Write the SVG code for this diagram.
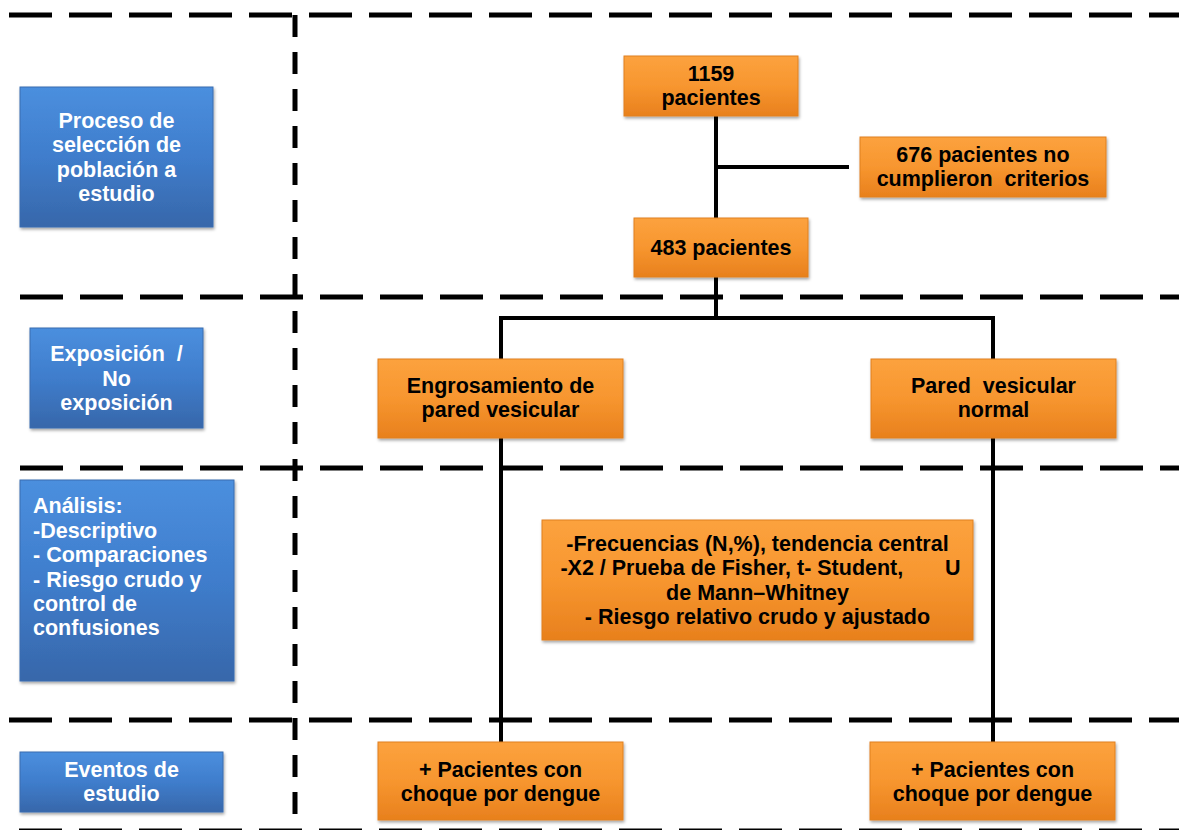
<svg xmlns="http://www.w3.org/2000/svg" width="1179" height="830" viewBox="0 0 1179 830">
<defs>
<linearGradient id="gb" x1="0" y1="0" x2="0" y2="1">
<stop offset="0" stop-color="#4b8fde"/>
<stop offset="0.5" stop-color="#3f7dcc"/>
<stop offset="1" stop-color="#3767aa"/>
</linearGradient>
<linearGradient id="go" x1="0" y1="0" x2="0" y2="1">
<stop offset="0" stop-color="#fca23e"/>
<stop offset="0.5" stop-color="#f7962f"/>
<stop offset="1" stop-color="#e8801d"/>
</linearGradient>
<filter id="sh" x="-10%" y="-10%" width="125%" height="135%">
<feDropShadow dx="1" dy="2" stdDeviation="1.5" flood-color="#000" flood-opacity="0.35"/>
</filter>
</defs>
<style>
.dh{stroke:#000;stroke-width:5;stroke-dasharray:43 17;fill:none}
.dv{stroke:#000;stroke-width:5;stroke-dasharray:22 15;fill:none}
.cn{stroke:#000;stroke-width:4;fill:none}
.bb{fill:url(#gb);stroke:#3a6cb0;stroke-width:1;filter:url(#sh)}
.ob{fill:url(#go);stroke:#e0801f;stroke-width:1;filter:url(#sh)}
.tw{font-family:"Liberation Sans",Arial,sans-serif;font-weight:bold;font-size:21.5px;fill:#fff;text-anchor:middle}
.tl{font-family:"Liberation Sans",Arial,sans-serif;font-weight:bold;font-size:21.5px;fill:#fff}
.tb{font-family:"Liberation Sans",Arial,sans-serif;font-weight:bold;font-size:21.5px;fill:#000;text-anchor:middle}
</style>
<rect width="1179" height="830" fill="#fff"/>
<g id="grid">
<line class="dh" x1="9" y1="15" x2="1179" y2="15"/>
<line class="dh" x1="20" y1="297" x2="1179" y2="297"/>
<line class="dh" x1="20" y1="468" x2="1179" y2="468"/>
<line class="dh" x1="9" y1="720" x2="1179" y2="720"/>
<line class="dh" x1="19" y1="831" x2="1179" y2="831"/>
<line class="dv" x1="295" y1="15" x2="295" y2="830"/>
</g>
<g id="connectors">
<line class="cn" x1="716" y1="116" x2="716" y2="218"/>
<line class="cn" x1="716" y1="167" x2="849" y2="167"/>
<line class="cn" x1="716" y1="277" x2="716" y2="318"/>
<line class="cn" x1="499" y1="318" x2="995" y2="318"/>
<line class="cn" x1="501" y1="318" x2="501" y2="359"/>
<line class="cn" x1="993" y1="318" x2="993" y2="359"/>
<line class="cn" x1="501" y1="438" x2="501" y2="742"/>
<line class="cn" x1="993" y1="438" x2="993" y2="742"/>
</g>
<g id="lbl-proceso">
<rect class="bb" x="20" y="87" width="193" height="140"/>
<text class="tw" x="116.5" y="128">Proceso de</text>
<text class="tw" x="116.5" y="152">selección de</text>
<text class="tw" x="116.5" y="177">población a</text>
<text class="tw" x="116.5" y="201">estudio</text>
</g>
<g id="lbl-exposicion">
<rect class="bb" x="30" y="328" width="173" height="100"/>
<text class="tw" x="116.5" y="361" xml:space="preserve">Exposición  /</text>
<text class="tw" x="116.5" y="386">No</text>
<text class="tw" x="116.5" y="410">exposición</text>
</g>
<g id="lbl-analisis">
<rect class="bb" x="20" y="480" width="214" height="201"/>
<text class="tl" x="33" y="513">Análisis:</text>
<text class="tl" x="33" y="538">-Descriptivo</text>
<text class="tl" x="33" y="562">- Comparaciones</text>
<text class="tl" x="33" y="587">- Riesgo crudo y</text>
<text class="tl" x="33" y="611">control de</text>
<text class="tl" x="33" y="635">confusiones</text>
</g>
<g id="lbl-eventos">
<rect class="bb" x="20" y="752" width="203" height="60"/>
<text class="tw" x="121.5" y="777">Eventos de</text>
<text class="tw" x="121.5" y="801">estudio</text>
</g>
<g id="n1159">
<rect class="ob" x="624" y="56" width="174" height="60"/>
<text class="tb" x="711" y="81">1159</text>
<text class="tb" x="711" y="105">pacientes</text>
</g>
<g id="n676">
<rect class="ob" x="860" y="137" width="246" height="60"/>
<text class="tb" x="983" y="162">676 pacientes no</text>
<text class="tb" x="983" y="186" xml:space="preserve">cumplieron  criterios</text>
</g>
<g id="n483">
<rect class="ob" x="634" y="218" width="174" height="59"/>
<text class="tb" x="721" y="255">483 pacientes</text>
</g>
<g id="nengros">
<rect class="ob" x="378" y="359" width="245" height="79"/>
<text class="tb" x="500.5" y="393">Engrosamiento de</text>
<text class="tb" x="500.5" y="417">pared vesicular</text>
</g>
<g id="npared">
<rect class="ob" x="871" y="359" width="245" height="79"/>
<text class="tb" x="993.5" y="393" xml:space="preserve">Pared  vesicular</text>
<text class="tb" x="993.5" y="417">normal</text>
</g>
<g id="nanalisis">
<rect class="ob" x="542" y="520" width="431" height="120"/>
<text class="tb" x="757.5" y="551">-Frecuencias (N,%), tendencia central</text>
<text class="tb" x="760.5" y="575" xml:space="preserve">-X2 / Prueba de Fisher, t- Student,       U</text>
<text class="tb" x="757.5" y="600">de Mann–Whitney</text>
<text class="tb" x="757.5" y="624">- Riesgo relativo crudo y ajustado</text>
</g>
<g id="nev1">
<rect class="ob" x="378" y="742" width="245" height="78"/>
<text class="tb" x="500.5" y="777">+ Pacientes con</text>
<text class="tb" x="500.5" y="801">choque por dengue</text>
</g>
<g id="nev2">
<rect class="ob" x="870" y="742" width="245" height="78"/>
<text class="tb" x="992.5" y="777">+ Pacientes con</text>
<text class="tb" x="992.5" y="801">choque por dengue</text>
</g>
</svg>
